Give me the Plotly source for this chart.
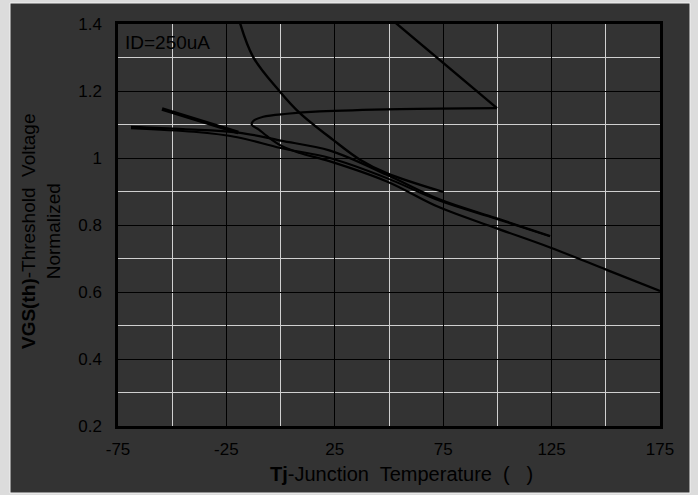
import plotly.graph_objects as go

# ---- data ----
x_ticks = [-75, -25, 25, 75, 125, 175]
x_tick_labels = ["-75", "-25", "25", "75", "125", "175"]
y_ticks = [0.2, 0.4, 0.6, 0.8, 1.0, 1.2, 1.4]
y_tick_labels = ["0.2", "0.4", "0.6", "0.8", "1", "1.2", "1.4"]

# curve sweeping down from the top, ending at 75 C
c1_x = [-19.5, -12.7, -0.3, 8.9, 24.2, 36.6, 48.9, 74.9]
c1_y = [1.42, 1.302, 1.198, 1.134, 1.054, 0.995, 0.955, 0.899]

# straight segment from the top down to (100, 1.15)
c2a_x = [50.0, 99.8]
c2a_y = [1.42, 1.149]

# loop back to the left, then down to 175 C
c2b_x = [99.8, 55, 18, 3, -8, -12.7, -13.3, -10, -6.4, 0.5, 8.9, 22.8, 49, 73.5, 99.7, 124.3, 150.4, 175]
c2b_y = [1.149, 1.146, 1.139, 1.132, 1.123, 1.110, 1.099, 1.085, 1.066, 1.036, 1.015, 0.99, 0.93, 0.852, 0.790, 0.733, 0.666, 0.603]

# short thick stroke on the left
c3_x = [-54.7, -19.5]
c3_y = [1.146, 1.076]

# flat stroke from -69 C to the tip, then down to 125 C
c4_x = [-69, -45, -19.5, 0, 22.8, 49, 73.5, 99.7, 124.3]
c4_y = [1.093, 1.086, 1.076, 1.052, 1.022, 0.95, 0.876, 0.820, 0.767]

# second stroke from -69 C, slightly steeper
c5_x = [-69, -40, -20, 0, 22.8, 49, 73.5, 99.7, 124.3]
c5_y = [1.089, 1.078, 1.062, 1.03, 1.0, 0.94, 0.872, 0.818, 0.766]

curves = [
    (c1_x, c1_y, 2.4, "spline"),
    (c2a_x, c2a_y, 2.4, "linear"),
    (c2b_x, c2b_y, 2.2, "spline"),
    (c3_x, c3_y, 3.6, "linear"),
    (c4_x, c4_y, 2.2, "spline"),
    (c5_x, c5_y, 2.0, "spline"),
]

fig = go.Figure()
for cx, cy, w, shape in curves:
    fig.add_trace(go.Scatter(
        x=cx, y=cy, mode="lines",
        line=dict(color="#000000", width=w, shape=shape, smoothing=1.0),
        showlegend=False, hoverinfo="skip", cliponaxis=True,
    ))

x_minor = [(a + b) / 2 for a, b in zip(x_ticks[:-1], x_ticks[1:])]
y_minor = [round((a + b) / 2, 2) for a, b in zip(y_ticks[:-1], y_ticks[1:])]

FONT = "Liberation Sans, Arial, sans-serif"
TXT = "#000000"

L, R, T, B = 118, 38, 24, 69
W, H = 698, 495
pw, ph = W - L - R, H - T - B

def px_x(p):
    return (p - L) / pw

def px_y(p):
    return (H - B - p) / ph

fig.update_layout(
    width=W, height=H,
    margin=dict(l=L, r=R, t=T, b=B, pad=0),
    paper_bgcolor="#dcdcdc",
    plot_bgcolor="#333333",
    font=dict(family=FONT, size=16, color=TXT),
    shapes=[dict(
        type="rect", xref="paper", yref="paper", layer="below",
        x0=px_x(10), x1=px_x(690), y0=px_y(493), y1=px_y(3),
        fillcolor="#333333", line=dict(color="#f2f2f2", width=1),
    )],
    xaxis=dict(
        range=[-75, 175], tickmode="array", tickvals=x_ticks, ticktext=x_tick_labels,
        showgrid=True, gridcolor="#000000", gridwidth=1, zeroline=False,
        showline=True, linecolor="#000000", linewidth=2.5, mirror=True,
        ticks="", ticklabelstandoff=6,
        tickfont=dict(family=FONT, size=17, color=TXT),
        minor=dict(tickmode="array", tickvals=x_minor, showgrid=True,
                   gridcolor="#d0d0d0", gridwidth=1.3, ticks=""),
    ),
    yaxis=dict(
        range=[0.2, 1.4], tickmode="array", tickvals=y_ticks, ticktext=y_tick_labels,
        showgrid=True, gridcolor="#000000", gridwidth=1, zeroline=False,
        showline=True, linecolor="#000000", linewidth=2.5, mirror=True,
        ticks="", ticklabelstandoff=10,
        tickfont=dict(family=FONT, size=17, color=TXT),
        minor=dict(tickmode="array", tickvals=y_minor, showgrid=True,
                   gridcolor="#d0d0d0", gridwidth=1.3, ticks=""),
    ),
    annotations=[
        dict(text="ID=250uA", xref="paper", yref="paper",
             x=px_x(123), y=px_y(43), xanchor="left", yanchor="middle",
             showarrow=False, font=dict(family=FONT, size=19, color=TXT)),
        dict(text="<b>VGS(th)</b>-Threshold  Voltage<br>Normalized",
             xref="paper", yref="paper", x=px_x(41), y=px_y(232),
             xanchor="center", yanchor="middle", textangle=-90, showarrow=False,
             font=dict(family=FONT, size=19, color=TXT)),
        dict(text="<b>Tj</b>-Junction  Temperature  (\u00a0\u00a0\u00a0)",
             xref="paper", yref="paper", x=px_x(401), y=px_y(474),
             xanchor="center", yanchor="middle", showarrow=False,
             font=dict(family=FONT, size=20, color=TXT)),
    ],
)

fig.write_html("out.html")
